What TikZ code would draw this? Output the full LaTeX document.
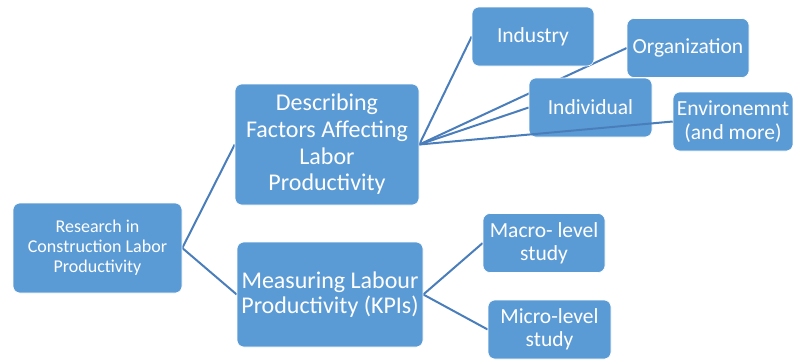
\documentclass[tikz,border=0pt]{standalone}
\usepackage{fontspec}
\setmainfont{Carlito}
\usepackage{tikz}
\usetikzlibrary{positioning,backgrounds}
\pgfdeclarelayer{background}
\pgfdeclarelayer{foreground}
\pgfsetlayers{background,main,foreground}
\definecolor{boxblue}{HTML}{5B9BD5}
\definecolor{lineblue}{HTML}{4A7EBB}

\begin{document}
\begin{tikzpicture}[x=1pt,y=-1pt,
 topic/.style={fill=boxblue,draw=white,line width=.6pt,rounded corners=7pt,text=white,align=center,inner sep=1pt},
 big/.style={topic,font=\fontsize{24}{25}\selectfont},
 small/.style={topic,font=\fontsize{21.5}{23.3}\selectfont,minimum width=122,minimum height=59},
 link/.style={lineblue,line width=2pt}]
\useasboundingbox (0,0) rectangle (793,360);
% root and the two branches
\node[topic,font=\fontsize{18}{20}\selectfont,minimum width=169,minimum height=90] (root) at (97.5,248) {Research in\\Construction Labor\\Productivity};
\node[big,font=\fontsize{24}{26.7}\selectfont,minimum width=184,minimum height=121] (factors) at (327,144.5) {Describing\\Factors Affecting\\Labor\\Productivity};
\node[big,minimum width=186,minimum height=105] (measure) at (330,294.5) {Measuring Labour\\Productivity (KPIs)};
% factor boxes
\node[small] (industry) at (533,36.5) {Industry};
\node[small] (organization) at (688,48) {Organization};
\node[small,minimum width=123] (individual) at (590.5,107.5) {Individual};
\node[small,minimum width=120] (environment) at (733,121.5) {Environemnt\\(and more)};
% study levels
\node[small] (macro) at (544,243) {Macro- level\\study};
\node[small,minimum width=123] (micro) at (549.5,329.5) {Micro-level\\study};

\begin{pgfonlayer}{background}
\draw[link] (root.east) -- (factors.west);
\draw[link] (root.east) -- (measure.west);
\draw[link] (factors.east) -- (industry.west);
\draw[link] (factors.east) -- (organization.west);
\draw[link] (factors.east) -- (individual.west);
\draw[link] (measure.east) -- (macro.west);
\draw[link] (measure.east) -- (micro.west);
\end{pgfonlayer}
\draw[link] (factors.east) -- (environment.west);
\end{tikzpicture}
\end{document}
